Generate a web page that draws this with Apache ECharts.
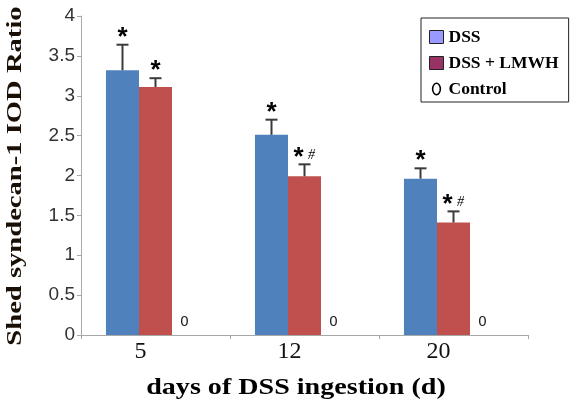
<!DOCTYPE html>
<html><head><meta charset="utf-8">
<script src="https://cdn.jsdelivr.net/npm/echarts@6/dist/echarts.min.js"></script>
<style>html,body{margin:0;padding:0;background:#fff}#c{width:576px;height:405px}</style>
</head><body><div id="c"></div>
<script>
const categories = ['5', '12', '20'];
const dssValues = [3.32, 2.51, 1.96];
const dssErrors = [0.32, 0.19, 0.13];
const dssMarks = ['*', '*', '*'];
const lmwhValues = [3.11, 1.99, 1.41];
const lmwhErrors = [0.11, 0.15, 0.14];
const lmwhMarks = ['*', '*#', '*#'];
const controlValues = [0, 0, 0];
const yTicks = [0, 0.5, 1, 1.5, 2, 2.5, 3, 3.5, 4];
const yTitle = 'Shed syndecan-1 IOD Ratio';
const xTitle = 'days of DSS ingestion (d)';

const serif = '"Liberation Serif", "Times New Roman", serif';
const chart = echarts.init(document.getElementById('c'));

function errSeries(name, values, errors, marks, slot) {
  return {
    type: 'custom', name: name, silent: true, z: 5,
    data: values.map((v, i) => [i, v, errors[i]]),
    renderItem: function (params, api) {
      const i = api.value(0), v = api.value(1), e = api.value(2);
      const mark = marks[i];
      const band = api.size([1, 0])[0];
      const w = band * 33 / 149;
      const base = api.coord([i, v]);
      const x = base[0] + slot * w;
      const top = api.coord([i, v + e])[1];
      const c = '#3a3a3a';
      const two = mark.length > 1;
      const children = [
        {type: 'line', shape: {x1: x, y1: base[1], x2: x, y2: top}, style: {stroke: c, lineWidth: 2}},
        {type: 'line', shape: {x1: x - 6, y1: top, x2: x + 6, y2: top}, style: {stroke: c, lineWidth: 2}},
        {type: 'text', x: x + (two ? -6 : 0), y: top + 6,
          style: {text: '*', align: 'center', verticalAlign: 'bottom',
            fontFamily: 'Liberation Sans', fontWeight: 'bold', fontSize: 26, fill: '#000'}}
      ];
      if (two) {
        children.push({type: 'text', x: x + 7, y: top - 9,
          style: {text: mark.slice(1), align: 'center', verticalAlign: 'middle',
            fontFamily: serif, fontStyle: 'italic', fontSize: 14, fill: '#000'}});
      }
      return {type: 'group', children: children};
    }
  };
}

chart.setOption({
  animation: false,
  backgroundColor: '#fff',
  grid: {left: 81, right: 48, top: 16, bottom: 70, outerBoundsMode: 'none'},
  graphic: [
    {type: 'text', x: 15, y: 176, rotation: Math.PI / 2, scaleX: 1.3,
      style: {text: yTitle, align: 'center', verticalAlign: 'middle',
        fontFamily: serif, fontWeight: 'bold', fontSize: 22, fill: '#1a0f05'}},
    {type: 'text', x: 296, y: 388, scaleX: 1.17,
      style: {text: xTitle, align: 'center', verticalAlign: 'middle',
        fontFamily: serif, fontWeight: 'bold', fontSize: 24, fill: '#000'}}
  ],
  legend: {
    left: 421, top: 18, orient: 'vertical',
    padding: [10, 10, 4, 8],
    borderColor: '#222', borderWidth: 1, backgroundColor: '#fff',
    itemWidth: 14, itemHeight: 13, itemGap: 8,
    textStyle: {fontFamily: serif, fontWeight: 'bold', fontSize: 17.5, color: '#000'},
    data: [
      {name: 'DSS', icon: 'rect', itemStyle: {color: '#9999FF', borderColor: '#222', borderWidth: 1}},
      {name: 'DSS + LMWH', icon: 'rect', itemStyle: {color: '#993366', borderColor: '#222', borderWidth: 1}},
      {name: 'Control', icon: 'path://M5,0 A5,7 0 1,0 5,14 A5,7 0 1,0 5,0 Z M5,1.6 A3.3,5.4 0 1,1 5,12.4 A3.3,5.4 0 1,1 5,1.6 Z', itemStyle: {color: '#000'}}
    ]
  },
  xAxis: {
    type: 'category', data: categories,
    axisLine: {lineStyle: {color: '#a8a8a8', width: 1}},
    axisTick: {show: true, length: 4, lineStyle: {color: '#a8a8a8'}},
    axisLabel: {margin: 5, formatter: v => '{a|' + v + '}',
      rich: {a: {fontFamily: serif, fontSize: 24, color: '#111', padding: [0, 30, 0, 0]}}}
  },
  yAxis: {
    type: 'value', min: 0, max: 4, interval: 0.5,
    splitLine: {show: false},
    axisLine: {show: true, lineStyle: {color: '#a8a8a8', width: 1}},
    axisTick: {show: true, length: 4, lineStyle: {color: '#a8a8a8'}},
    axisLabel: {fontFamily: '"Liberation Sans", sans-serif', fontSize: 19, color: '#333', margin: 6,
      formatter: v => yTicks.indexOf(v) >= 0 ? String(v) : ''}
  },
  series: [
    {name: 'DSS', type: 'bar', data: dssValues, barGap: '0%', barCategoryGap: '33.5%',
      itemStyle: {color: '#4F81BD'}},
    {name: 'DSS + LMWH', type: 'bar', data: lmwhValues, itemStyle: {color: '#C0504D'}},
    {name: 'Control', type: 'bar', data: controlValues, itemStyle: {color: '#000'},
      label: {show: true, position: 'top', distance: 6, offset: [-4, 0], formatter: '{c}',
        fontFamily: '"DejaVu Sans", sans-serif', fontSize: 14, color: '#222'}},
    errSeries('errDSS', dssValues, dssErrors, dssMarks, -1),
    errSeries('errLMWH', lmwhValues, lmwhErrors, lmwhMarks, 0)
  ]
});
</script></body></html>
